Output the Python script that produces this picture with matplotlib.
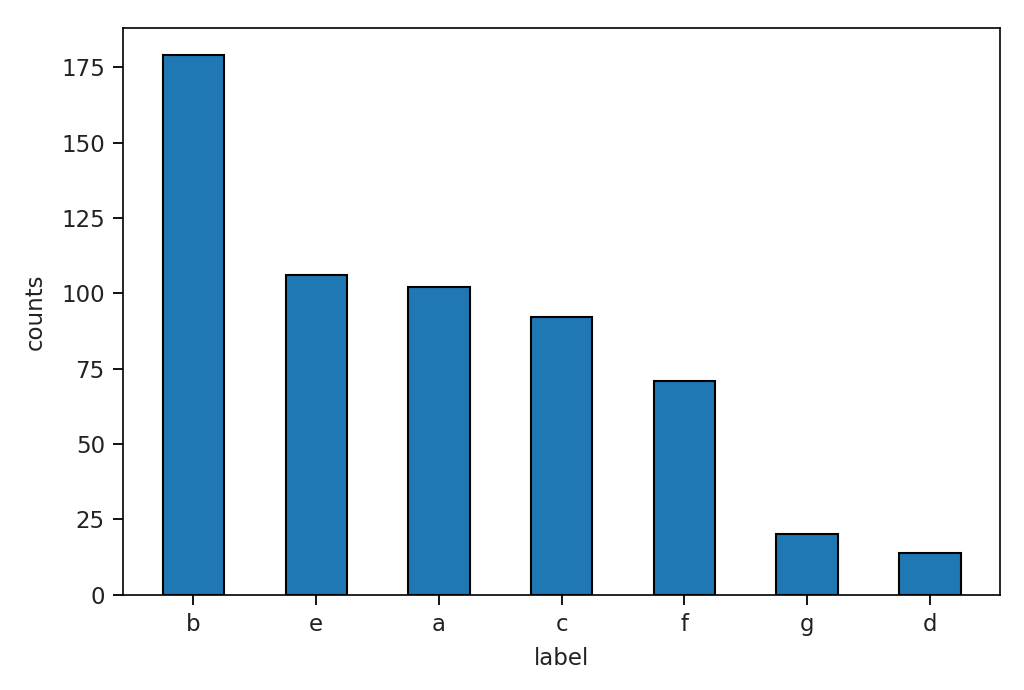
import matplotlib.pyplot as plt

labels = ["b", "e", "a", "c", "f", "g", "d"]
counts = [179, 106, 102, 92, 71, 20, 14]

fig = plt.figure(figsize=(10.24, 6.9), dpi=100)
ax = fig.add_axes([0.120, 0.138, 0.857, 0.821])

ax.bar(labels, counts, width=0.5, color="#1f77b4", edgecolor="black", linewidth=1.5)
ax.set_xlabel("label", fontsize=16.5, labelpad=8, color="#222222")
ax.set_ylabel("counts", fontsize=16.5, labelpad=10, color="#222222")
ax.tick_params(labelsize=16.5, width=1.3, length=7, pad=6, labelcolor="#222222")
for s in ax.spines.values():
    s.set_linewidth(1.2)

fig.savefig("out.png", dpi=100)
